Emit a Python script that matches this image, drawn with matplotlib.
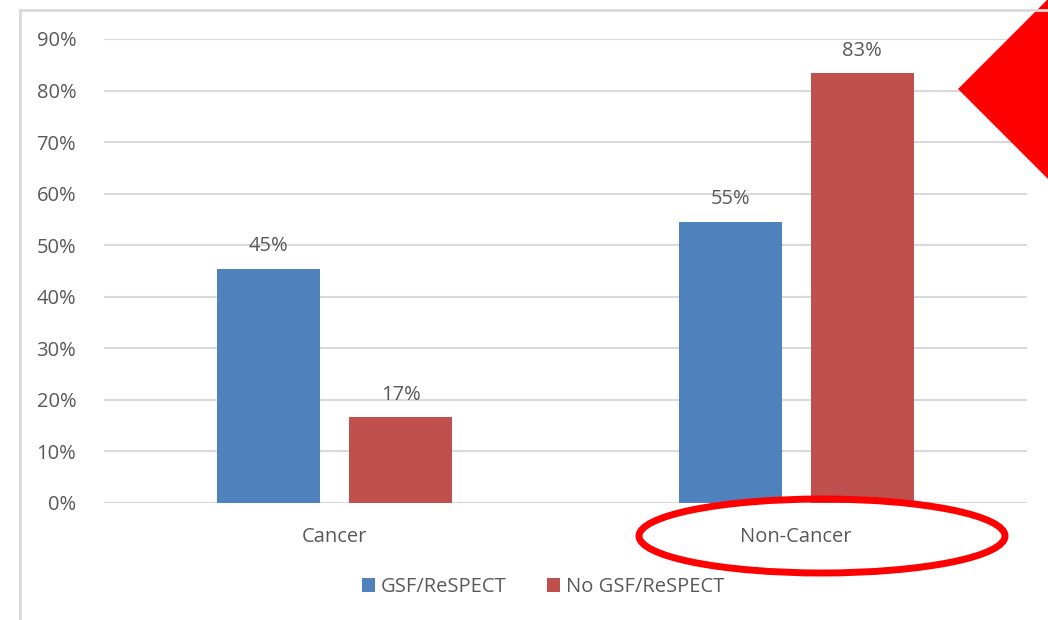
import numpy as np
import matplotlib.pyplot as plt
from matplotlib.patches import Ellipse, Polygon
from matplotlib.lines import Line2D

categories = ["Cancer", "Non-Cancer"]
series_names = ["GSF/ReSPECT", "No GSF/ReSPECT"]
gsf = [45.45, 54.55]
no_gsf = [16.67, 83.33]
yticks = [0, 10, 20, 30, 40, 50, 60, 70, 80, 90]

blue = "#4f81bd"
red = "#c0504d"
txt = "#595959"
grid = "#d9d9d9"

plt.rcParams['font.family'] = ['Open Sans', 'DejaVu Sans']

W, H = 1048, 620
fs = 14.5
fig = plt.figure(figsize=(W / 100, H / 100), dpi=100)
ax = fig.add_axes([104 / W, 1 - 503 / H, (1027 - 104) / W, (503 - 39) / H])

x = np.arange(len(categories))
bw = 0.223
off = (bw + 0.063) / 2
b1 = ax.bar(x - off, gsf, bw, color=blue, label=series_names[0])
b2 = ax.bar(x + off, no_gsf, bw, color=red, label=series_names[1])
for bars in (b1, b2):
    ax.bar_label(bars, labels=[f"{v:.0f}%" for v in bars.datavalues],
                 padding=9, color=txt, fontsize=fs)

ax.set_xlim(-0.5, 1.5)
ax.set_ylim(0, 90)
ax.set_yticks(yticks)
ax.set_yticklabels([f"{t}%" for t in yticks])
ax.set_xticks(x)
ax.set_xticklabels(categories)
ax.tick_params(length=0, colors=txt, labelsize=fs)
ax.tick_params(axis='y', pad=20)
ax.tick_params(axis='x', pad=17)
ax.yaxis.grid(True, color=grid, linewidth=1.5)
ax.set_axisbelow(True)
for s in ax.spines.values():
    s.set_visible(False)

fig.legend(handles=[b1, b2], loc='center', bbox_to_anchor=(543 / W, 1 - 587 / H),
           ncol=2, frameon=False, fontsize=fs, labelcolor=txt,
           handlelength=0.65, handleheight=0.65, handletextpad=0.3, columnspacing=2.0)

# outer frame lines
fig.add_artist(Line2D([20 / W, 20 / W], [0, 1 - 10 / H], color=grid, lw=2,
                      transform=fig.transFigure))
fig.add_artist(Line2D([20 / W, 1], [1 - 10 / H, 1 - 10 / H], color=grid, lw=2,
                      transform=fig.transFigure))

# annotations
fig.add_artist(Ellipse((822 / W, 1 - 536 / H), 366 / W, 74 / H, fill=False,
                       edgecolor='#ff0000', lw=5, transform=fig.transFigure))
fig.add_artist(Polygon([(1048 / W, 1 + 1 / H), (958 / W, 1 - 89 / H), (1048 / W, 1 - 179 / H)],
                       closed=True, facecolor='#ff0000', edgecolor='none',
                       transform=fig.transFigure))

fig.savefig("out.png", dpi=100)
